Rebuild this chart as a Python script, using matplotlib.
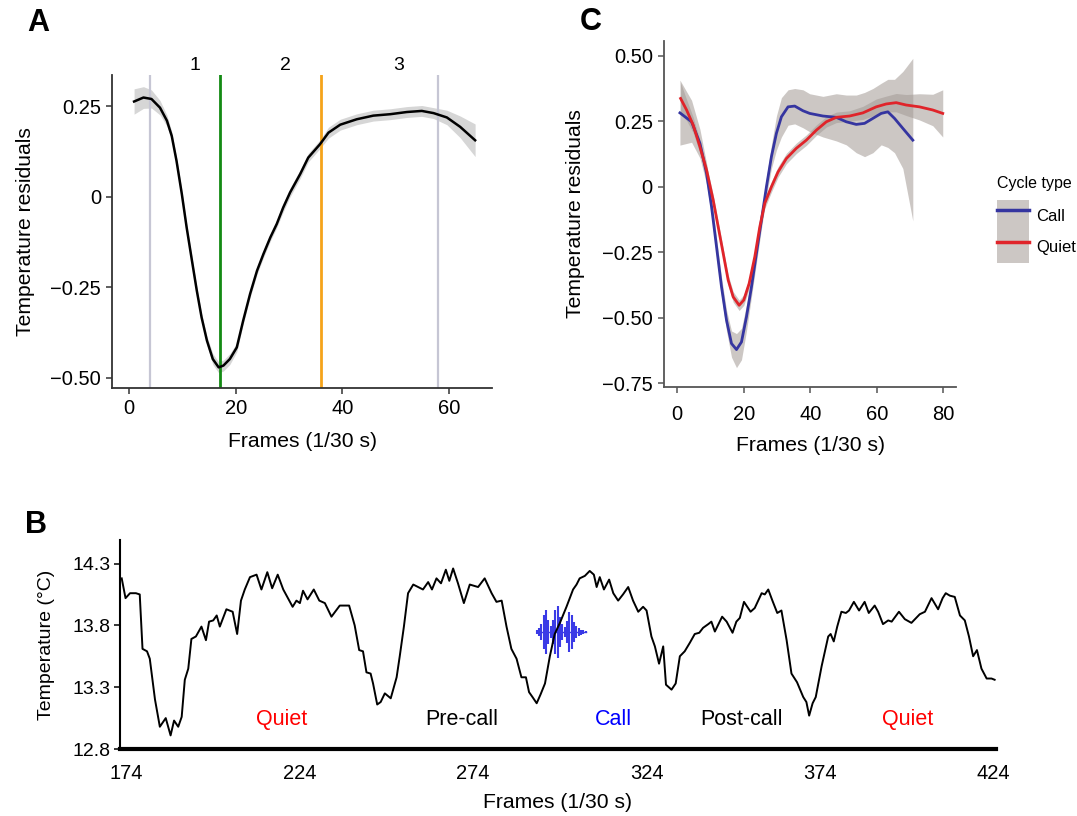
import matplotlib
matplotlib.use("Agg")
import matplotlib.pyplot as plt
import numpy as np
from matplotlib.lines import Line2D
from matplotlib.patches import Patch
from matplotlib.legend_handler import HandlerTuple
import matplotlib.transforms as mtransforms

plt.rcParams["font.family"] = ["Liberation Sans", "DejaVu Sans"]

# ---- panel A: mean residual cycle ----
a_frames = [0.94, 2.7, 4.2, 5.8, 7.1, 8.0, 8.9, 9.9, 10.8, 11.8, 12.7, 13.6, 14.6, 15.7,
            16.8, 17.7, 18.9, 20.2, 21.4, 22.7, 24.0, 25.2, 26.5, 27.7, 28.9, 30.2, 32.1,
            33.6, 35.8, 37.4, 39.6, 42.7, 45.8, 49.0, 52.1, 54.9, 57.1, 59.6, 62.1, 64.9]
a_vals = [0.263, 0.274, 0.27, 0.246, 0.21, 0.168, 0.099, 0.007, -0.085, -0.177, -0.259,
          -0.333, -0.397, -0.448, -0.471, -0.466, -0.448, -0.416, -0.342, -0.268, -0.204,
          -0.158, -0.112, -0.075, -0.030, 0.012, 0.063, 0.108, 0.145, 0.177, 0.199, 0.214,
          0.224, 0.228, 0.234, 0.237, 0.231, 0.219, 0.193, 0.156]
a_se = [0.035, 0.03, 0.025, 0.02, 0.015, 0.012, 0.01, 0.01, 0.01, 0.01, 0.01, 0.01, 0.012,
        0.015, 0.015, 0.015, 0.015, 0.012, 0.01, 0.01, 0.01, 0.01, 0.01, 0.01, 0.012, 0.012,
        0.012, 0.012, 0.012, 0.015, 0.015, 0.015, 0.015, 0.015, 0.015, 0.015, 0.015, 0.02,
        0.03, 0.045]
a_bounds_grey = [4, 58]
a_bound_inhale = 17
a_bound_exhale = 36
a_phase_labels = ["1", "2", "3"]
a_phase_x = [12.4, 29.3, 50.5]

# ---- panel C: call vs quiet cycles ----
call_f = [0.8, 4.3, 6.8, 8.8, 10.3, 11.8, 13.3, 14.8, 16.3, 17.8, 19.3, 20.8, 22.3, 23.8,
          25.3, 26.8, 28.3, 29.8, 31.3, 33.3, 35.3, 37.8, 39.8, 43.8, 47.8, 50.8, 53.8,
          56.3, 58.8, 61.3, 63.3, 65.3, 67.8, 70.8]
call_v = [0.282, 0.248, 0.166, 0.051, -0.076, -0.229, -0.382, -0.509, -0.598, -0.621,
          -0.592, -0.496, -0.382, -0.254, -0.127, 0.0, 0.115, 0.204, 0.267, 0.305, 0.308,
          0.29, 0.28, 0.27, 0.265, 0.248, 0.238, 0.242, 0.261, 0.28, 0.286, 0.261, 0.223,
          0.178]
call_hi = [0.407, 0.33, 0.22, 0.09, -0.04, -0.195, -0.345, -0.47, -0.55, -0.56, -0.54,
           -0.45, -0.345, -0.22, -0.095, 0.035, 0.16, 0.27, 0.34, 0.37, 0.375, 0.37, 0.355,
           0.345, 0.355, 0.35, 0.35, 0.36, 0.375, 0.395, 0.41, 0.41, 0.44, 0.49]
call_lo = [0.159, 0.17, 0.11, 0.01, -0.11, -0.265, -0.42, -0.55, -0.65, -0.69, -0.66,
           -0.55, -0.42, -0.29, -0.16, -0.035, 0.07, 0.14, 0.19, 0.235, 0.24, 0.225, 0.21,
           0.19, 0.175, 0.16, 0.13, 0.115, 0.13, 0.16, 0.15, 0.13, 0.07, -0.13]
quiet_f = [1.0, 2.8, 4.8, 6.8, 8.8, 10.8, 12.3, 13.8, 15.3, 16.8, 18.6, 20.0, 21.6, 23.3,
           24.8, 26.3, 28.3, 30.3, 32.8, 35.8, 38.8, 41.8, 44.8, 47.8, 51.8, 55.8, 59.8,
           62.8, 65.8, 68.8, 72.8, 76.8, 79.8]
quiet_v = [0.337, 0.293, 0.235, 0.153, 0.064, -0.051, -0.153, -0.254, -0.356, -0.42,
           -0.452, -0.432, -0.369, -0.267, -0.153, -0.063, 0.0, 0.057, 0.108, 0.147, 0.178,
           0.216, 0.248, 0.265, 0.27, 0.282, 0.305, 0.316, 0.321, 0.312, 0.305, 0.293, 0.28]
quiet_se = [0.06, 0.04, 0.03, 0.025, 0.02, 0.02, 0.02, 0.02, 0.02, 0.02, 0.02, 0.02, 0.02,
            0.02, 0.02, 0.02, 0.02, 0.02, 0.02, 0.02, 0.02, 0.02, 0.02, 0.02, 0.02, 0.025,
            0.03, 0.03, 0.035, 0.04, 0.05, 0.06, 0.09]

# ---- panel B: raw temperature trace ----
b_frames = [172.6, 173.7, 175.0, 176.7, 177.8, 178.6, 179.9, 180.7, 182.2, 183.6, 185.3,
            186.7, 187.7, 188.9, 189.9, 190.8, 191.8, 192.7, 194.0, 195.6, 196.9, 197.8,
            199.0, 200.0, 200.9, 202.8, 204.6, 205.9, 207.0, 208.1, 209.6, 211.5, 212.9,
            214.6, 216.0, 217.6, 219.2, 221.9, 223.0, 224.0, 224.9, 226.2, 228.0, 229.6,
            231.2, 233.1, 235.5, 238.2, 239.8, 241.1, 242.2, 243.2, 244.4, 245.1, 246.3,
            247.3, 248.5, 250.2, 251.9, 252.8, 254.0, 255.2, 256.7, 259.5, 261.0, 262.1,
            263.4, 264.7, 266.1, 267.1, 268.2, 269.6, 271.3, 273.0, 275.4, 277.3, 279.3,
            280.7, 282.2, 283.6, 285.0, 286.5, 287.9, 289.2, 290.1, 291.1, 292.3, 293.4,
            294.7, 296.1, 297.5, 299.0, 300.9, 302.8, 303.8, 304.7, 306.2, 307.6, 308.8,
            309.6, 310.5, 311.7, 313.2, 314.4, 315.8, 317.2, 318.7, 320.1, 321.6, 323.0,
            324.0, 325.4, 326.4, 327.6, 328.8, 329.6, 331.2, 332.4, 333.6, 335.0, 336.5,
            337.9, 339.2, 340.3, 341.8, 342.7, 343.7, 345.8, 347.1, 348.8, 349.9, 350.9,
            352.1, 354.0, 355.2, 357.2, 358.1, 359.1, 360.3, 361.7, 362.9, 364.4, 365.8,
            367.4, 369.2, 370.1, 370.9, 371.9, 372.8, 374.5, 376.4, 377.1, 378.0, 379.0,
            380.2, 381.5, 382.4, 383.8, 385.3, 386.9, 388.1, 389.8, 390.8, 392.2, 393.7,
            394.7, 396.8, 398.5, 400.4, 402.8, 404.3, 406.2, 408.1, 409.4, 410.3, 411.5,
            412.9, 414.4, 415.8, 417.0, 418.2, 419.3, 420.6, 422.1, 423.5, 424.4]
b_temp = [14.18, 14.02, 14.06, 14.06, 14.05, 13.61, 13.59, 13.53, 13.20, 12.98, 13.05,
          12.91, 13.03, 12.98, 13.06, 13.36, 13.45, 13.69, 13.71, 13.79, 13.68, 13.83,
          13.84, 13.88, 13.79, 13.93, 13.91, 13.73, 14.00, 14.09, 14.19, 14.21, 14.09,
          14.23, 14.10, 14.21, 14.09, 13.95, 14.00, 13.98, 14.08, 14.01, 14.09, 14.00,
          13.98, 13.87, 13.96, 13.96, 13.80, 13.60, 13.59, 13.42, 13.41, 13.33, 13.16,
          13.18, 13.25, 13.21, 13.38, 13.55, 13.79, 14.06, 14.13, 14.09, 14.15, 14.09,
          14.18, 14.14, 14.25, 14.16, 14.26, 14.14, 13.98, 14.13, 14.11, 14.18, 14.06,
          13.99, 14.00, 13.79, 13.61, 13.53, 13.38, 13.38, 13.26, 13.22, 13.17, 13.24,
          13.33, 13.55, 13.73, 13.82, 13.95, 14.09, 14.13, 14.18, 14.20, 14.24, 14.21,
          14.11, 14.19, 14.09, 14.17, 14.06, 14.00, 14.05, 14.11, 14.00, 13.91, 13.95,
          13.92, 13.71, 13.63, 13.49, 13.63, 13.32, 13.28, 13.33, 13.55, 13.59, 13.66,
          13.73, 13.74, 13.78, 13.81, 13.83, 13.75, 13.87, 13.83, 13.74, 13.83, 13.86,
          13.99, 13.91, 13.94, 14.06, 14.05, 14.09, 14.00, 13.90, 13.92, 13.68, 13.41,
          13.34, 13.22, 13.18, 13.07, 13.17, 13.22, 13.47, 13.71, 13.73, 13.67, 13.79,
          13.91, 13.90, 13.92, 13.99, 13.92, 13.99, 13.90, 13.96, 13.91, 13.81, 13.84,
          13.83, 13.91, 13.85, 13.82, 13.89, 13.91, 14.02, 13.93, 14.02, 14.06, 14.04,
          14.03, 13.88, 13.84, 13.71, 13.55, 13.60, 13.45, 13.37, 13.37, 13.36]
b_segments = ["Quiet", "Pre-call", "Call", "Post-call", "Quiet"]
b_segment_x = [218.8, 270.7, 314.3, 351.5, 399.4]
b_segment_colors = ["#ff0000", "black", "#0000ff", "black", "#ff0000"]
# call icon: amplitude of each bar of the little waveform (deg C)
wave_amp = [0.015, 0.03, 0.065, 0.14, 0.175, 0.1, 0.05, 0.1, 0.175, 0.21, 0.125, 0.065,
            0.04, 0.09, 0.165, 0.14, 0.08, 0.05, 0.03, 0.02, 0.015, 0.01]

fig = plt.figure(figsize=(10.77, 8.16), dpi=100)

# ---------------- A ----------------
axA = fig.add_axes([0.104, 0.5245, 0.353, 0.3835])
a_frames_arr = np.array(a_frames)
a_vals_arr = np.array(a_vals)
a_se_arr = np.array(a_se)
axA.fill_between(a_frames_arr, a_vals_arr - a_se_arr, a_vals_arr + a_se_arr,
                 color="#d6d6d6", lw=0, zorder=1)
for xv in a_bounds_grey:
    axA.axvline(xv, color="#c6c6d4", lw=1.6, zorder=2)
axA.axvline(a_bound_inhale, color="#138a13", lw=2, zorder=2)
axA.axvline(a_bound_exhale, color="#f5a31a", lw=2, zorder=2)
axA.plot(a_frames_arr, a_vals_arr, color="black", lw=1.8, zorder=3)
trA = mtransforms.blended_transform_factory(axA.transData, axA.transAxes)
for lab, xv in zip(a_phase_labels, a_phase_x):
    axA.text(xv, 1.032, lab, transform=trA, ha="center", va="center", fontsize=14,
             clip_on=False)
axA.set_xlim(-3.2, 68.1)
axA.set_ylim(-0.528, 0.336)
axA.set_xticks([0, 20, 40, 60])
axA.set_yticks([0.25, 0, -0.25, -0.5])
axA.set_yticklabels(["0.25", "0", "\u22120.25", "\u22120.50"])
axA.set_xlabel("Frames (1/30 s)", fontsize=15.2, labelpad=10)
axA.set_ylabel("Temperature residuals", fontsize=15.2, labelpad=11)

# ---------------- C ----------------
axC = fig.add_axes([0.6165, 0.526, 0.2712, 0.424])
band_col = "#a39a95"
quiet_v_arr = np.array(quiet_v)
quiet_se_arr = np.array(quiet_se)
axC.fill_between(call_f, call_lo, call_hi, color=band_col, alpha=0.55, lw=0, zorder=1)
axC.fill_between(quiet_f, quiet_v_arr - quiet_se_arr, quiet_v_arr + quiet_se_arr,
                 color=band_col, alpha=0.55, lw=0, zorder=1)
call_col = "#3535a0"
quiet_col = "#e0242a"
axC.plot(call_f, call_v, color=call_col, lw=2, zorder=3)
axC.plot(quiet_f, quiet_v, color=quiet_col, lw=2, zorder=3)
axC.set_xlim(-4.0, 83.8)
axC.set_ylim(-0.763, 0.557)
axC.set_xticks([0, 20, 40, 60, 80])
axC.set_yticks([0.5, 0.25, 0, -0.25, -0.5, -0.75])
axC.set_yticklabels(["0.50", "0.25", "0", "\u22120.25", "\u22120.50", "\u22120.75"])
axC.set_xlabel("Frames (1/30 s)", fontsize=15.2, labelpad=9)
axC.set_ylabel("Temperature residuals", fontsize=15.2, labelpad=12)
handles = [(Patch(facecolor=band_col, alpha=0.55, lw=0), Line2D([], [], color=call_col, lw=2.5)),
           (Patch(facecolor=band_col, alpha=0.55, lw=0), Line2D([], [], color=quiet_col, lw=2.5))]
leg = axC.legend(handles, ["Call", "Quiet"],
                 handler_map={tuple: HandlerTuple(ndivide=1, pad=0)},
                 loc="upper left", bbox_to_anchor=(0.926, 0.784),
                 bbox_transform=fig.transFigure, frameon=False, fontsize=12,
                 title="Cycle type", title_fontsize=11.5, handlelength=1.9,
                 handleheight=2.55, labelspacing=0.0, handletextpad=0.42, borderpad=0,
                 borderaxespad=0)
leg._legend_box.align = "left"
leg._legend_box.sep = 6

for ax, sc in ((axA, "#333333"), (axC, "#555555")):
    for side in ("top", "right"):
        ax.spines[side].set_visible(False)
    for side in ("left", "bottom"):
        ax.spines[side].set_color(sc)
        ax.spines[side].set_linewidth(1.3)
    ax.tick_params(labelsize=14.5, length=4, width=1.1, color=sc, pad=4)
axC.tick_params(axis="x", pad=9)

# ---------------- B ----------------
axB = fig.add_axes([0.1114, 0.0821, 0.8134, 0.2561])
axB.plot(b_frames, b_temp, color="black", lw=1.4, zorder=3)
wave_x = np.linspace(292.3, 306.4, len(wave_amp))
wave_mid = 13.746
axB.vlines(wave_x, wave_mid - np.array(wave_amp), wave_mid + np.array(wave_amp),
           color="#3a3ae6", lw=1.5, zorder=2)
axB.plot([wave_x[0], wave_x[-1]], [wave_mid, wave_mid], color="#3a3ae6", lw=1.0, zorder=2)
for lab, xv, col in zip(b_segments, b_segment_x, b_segment_colors):
    axB.text(xv, 13.04, lab, color=col, ha="center", va="center", fontsize=15.5)
axB.set_xlim(172.1, 424.8)
axB.set_ylim(12.8, 14.49)
axB.set_xticks([174, 224, 274, 324, 374, 424])
axB.set_yticks([12.8, 13.3, 13.8, 14.3])
axB.set_yticklabels(["12.8", "13.3", "13.8", "14.3"])
axB.set_xlabel("Frames (1/30 s)", fontsize=15.2, labelpad=7)
axB.set_ylabel("Temperature (\u00b0C)", fontsize=14, labelpad=12)
for side in ("top", "right"):
    axB.spines[side].set_visible(False)
axB.spines["left"].set_linewidth(1.5)
axB.spines["bottom"].set_linewidth(3)
axB.tick_params(axis="y", labelsize=14, length=4, width=1.1, pad=3)
axB.tick_params(axis="x", labelsize=14.5, length=0, pad=11)

# panel letters
fig.text(38 / 1077, 1 - 23 / 816, "A", fontsize=22, fontweight="bold", ha="center", va="center")
fig.text(591 / 1077, 1 - 22 / 816, "C", fontsize=22, fontweight="bold", ha="center", va="center")
fig.text(36 / 1077, 1 - 525 / 816, "B", fontsize=22, fontweight="bold", ha="center", va="center")

fig.savefig("out.png", dpi=100)
